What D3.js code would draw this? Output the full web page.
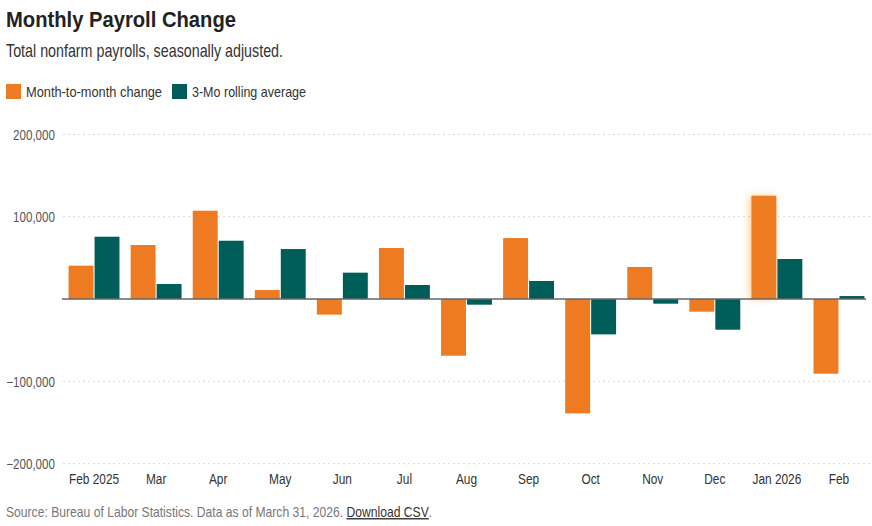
<!DOCTYPE html>
<html>
<head>
<meta charset="utf-8">
<script src="https://cdn.jsdelivr.net/npm/d3@7"></script>
<style>
  html, body { margin: 0; padding: 0; background: #fff; }
  svg { display: block; font-family: "Liberation Sans", Arial, sans-serif; }
</style>
</head>
<body>
<svg id="chart" width="872" height="526"></svg>
<script>
const months = ["Feb 2025","Mar","Apr","May","Jun","Jul","Aug","Sep","Oct","Nov","Dec","Jan 2026","Feb"];
const monthlyChange = [40500, 65600, 107300, 10900, -19000, 62000, -68900, 74000, -139000, 38900, -15400, 125500, -90800];
const rollingAverage = [75700, 18200, 70800, 60700, 32000, 17000, -6900, 21900, -43000, -5700, -37300, 48600, 3600];
const yTicks = [-200000, -100000, 0, 100000, 200000];
const seriesNames = ["Month-to-month change", "3-Mo rolling average"];
const seriesColors = ["#EE7B22", "#005E5A"];
const highlightMonth = "Jan 2026";

const svg = d3.select("#chart");
const NARROW = 0.82;

const rows = months.map((m, i) => ({ month: m, values: [monthlyChange[i], rollingAverage[i]] }));

const x0 = d3.scaleBand().domain(months).range([63, 870]).paddingInner(0.18).paddingOuter(0.09);
const x1 = d3.scaleBand().domain([0, 1]).range([0, x0.bandwidth()]).paddingInner(0.04);
const y = d3.scaleLinear().domain([-200000, 200000]).range([463.6, 134.4]);

// defs: glow for highlighted bar
const defs = svg.append("defs");
const f = defs.append("filter").attr("id", "glow").attr("x", "-60%").attr("y", "-20%").attr("width", "220%").attr("height", "140%");
f.append("feDropShadow").attr("dx", -2).attr("dy", 0).attr("stdDeviation", 3.5)
  .attr("flood-color", "#F5A83A").attr("flood-opacity", 0.55);

// Title & subtitle
svg.append("text").attr("x", 6).attr("y", 27)
  .attr("font-size", 22).attr("font-weight", "bold").attr("fill", "#222")
  .attr("textLength", 230).attr("lengthAdjust", "spacingAndGlyphs")
  .text("Monthly Payroll Change");
svg.append("text").attr("x", 6).attr("y", 57)
  .attr("font-size", 19).attr("fill", "#333")
  .attr("textLength", 277).attr("lengthAdjust", "spacingAndGlyphs")
  .text("Total nonfarm payrolls, seasonally adjusted.");

// Legend
const legendItems = [
  { name: seriesNames[0], color: seriesColors[0], x: 6, tw: 136 },
  { name: seriesNames[1], color: seriesColors[1], x: 172, tw: 114 }
];
const lg = svg.append("g");
legendItems.forEach(d => {
  lg.append("rect").attr("x", d.x).attr("y", 84).attr("width", 15).attr("height", 15).attr("fill", d.color);
  lg.append("text").attr("x", d.x + 20).attr("y", 97)
    .attr("font-size", 14.5).attr("fill", "#333")
    .attr("textLength", d.tw).attr("lengthAdjust", "spacingAndGlyphs")
    .text(d.name);
});

// Grid lines
const fmt = d3.format(",");
const grid = svg.append("g");
yTicks.filter(t => t !== 0).forEach(t => {
  grid.append("line").attr("x1", 63).attr("x2", 872).attr("y1", y(t)).attr("y2", y(t))
    .attr("stroke", "#d9d9d9").attr("stroke-width", 1).attr("stroke-dasharray", "2,3");
});

// Y axis labels
const yAxis = d3.axisLeft(y).tickValues(yTicks).tickSize(0).tickPadding(0).tickFormat(d => fmt(d));
const yg = svg.append("g").attr("transform", "translate(55,0)").call(yAxis);
yg.select(".domain").remove();
yg.selectAll("text").attr("font-family", "Liberation Sans, Arial, sans-serif")
  .attr("font-size", 14).attr("fill", "#555").attr("dy", "0.36em")
  .attr("transform", "scale(0.83,1)");
yg.selectAll(".tick").filter(d => d === 0).remove();

// Bars
const groups = svg.append("g").selectAll("g").data(rows).join("g")
  .attr("transform", d => `translate(${x0(d.month)},0)`);
groups.selectAll("rect").data(d => d.values.map((v, i) => ({ v, i, month: d.month }))).join("rect")
  .attr("x", d => x1(d.i))
  .attr("width", x1.bandwidth())
  .attr("y", d => y(Math.max(0, d.v)))
  .attr("height", d => Math.abs(y(d.v) - y(0)))
  .attr("fill", d => seriesColors[d.i])
  .attr("filter", d => (d.month === highlightMonth && d.i === 0) ? "url(#glow)" : null);

// Zero line
svg.append("line").attr("x1", 62).attr("x2", 866).attr("y1", y(0)).attr("y2", y(0))
  .attr("stroke", "#666").attr("stroke-width", 1.3);

// X axis labels
const xAxis = d3.axisBottom(x0).tickSize(0).tickPadding(0);
const xg = svg.append("g").attr("transform", "translate(0,474)").call(xAxis);
xg.select(".domain").remove();
xg.selectAll("text").attr("font-family", "Liberation Sans, Arial, sans-serif")
  .attr("font-size", 14.5).attr("fill", "#333").attr("dy", "0.71em")
  .attr("transform", `scale(${NARROW},1)`);

// Source
const srcG = svg.append("g").attr("transform", "translate(6,517) scale(0.867,1)");
const src = srcG.append("text").attr("x", 0).attr("y", 0).attr("font-size", 14).attr("fill", "#777");
src.append("tspan").text("Source: Bureau of Labor Statistics. Data as of March 31, 2026. ");
src.append("tspan").attr("fill", "#333").attr("text-decoration", "underline").text("Download CSV");
src.append("tspan").text(".");
</script>
</body>
</html>
